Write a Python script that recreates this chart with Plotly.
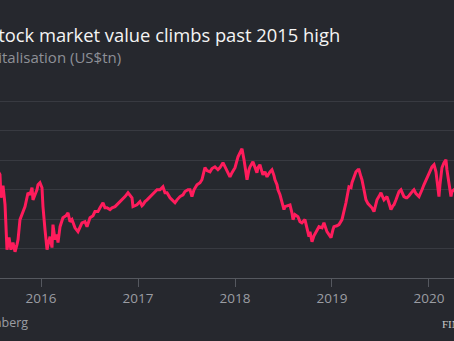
import plotly.graph_objects as go

# decimal years
years = [
    2015.525, 2015.577, 2015.587, 2015.608, 2015.629, 2015.649, 2015.670, 2015.690, 2015.711, 2015.732,
    2015.752, 2015.763, 2015.783, 2015.814, 2015.835, 2015.866, 2015.886, 2015.907, 2015.917, 2015.938,
    2015.958, 2015.969, 2015.989, 2016.010, 2016.020, 2016.041, 2016.062, 2016.072, 2016.093, 2016.113,
    2016.123, 2016.144, 2016.165, 2016.175, 2016.196, 2016.226, 2016.257, 2016.278, 2016.299, 2016.319,
    2016.350, 2016.381, 2016.402, 2016.422, 2016.453, 2016.474, 2016.505, 2016.536, 2016.556, 2016.587,
    2016.608, 2016.639, 2016.659, 2016.680, 2016.711, 2016.732, 2016.763, 2016.783, 2016.814, 2016.835,
    2016.866, 2016.897, 2016.917, 2016.938, 2016.948, 2016.969, 2016.989, 2017.020, 2017.041, 2017.051,
    2017.072, 2017.093, 2017.123, 2017.144, 2017.175, 2017.196, 2017.226, 2017.257, 2017.278, 2017.299,
    2017.330, 2017.350, 2017.381, 2017.402, 2017.433, 2017.464, 2017.484, 2017.515, 2017.536, 2017.556,
    2017.577, 2017.608, 2017.639, 2017.659, 2017.690, 2017.711, 2017.742, 2017.763, 2017.793, 2017.824,
    2017.845, 2017.876, 2017.897, 2017.917, 2017.948, 2017.969, 2018.000, 2018.031, 2018.051, 2018.072,
    2018.093, 2018.113, 2018.124, 2018.144, 2018.155, 2018.185, 2018.206, 2018.226, 2018.237, 2018.257,
    2018.278, 2018.288, 2018.309, 2018.330, 2018.361, 2018.381, 2018.402, 2018.412, 2018.433, 2018.443,
    2018.464, 2018.484, 2018.505, 2018.515, 2018.536, 2018.567, 2018.587, 2018.598, 2018.618, 2018.649,
    2018.670, 2018.690, 2018.721, 2018.742, 2018.763, 2018.773, 2018.794, 2018.814, 2018.835, 2018.855,
    2018.866, 2018.897, 2018.917, 2018.948, 2018.969, 2018.990, 2019.010, 2019.020, 2019.051, 2019.072,
    2019.103, 2019.123, 2019.144, 2019.175, 2019.196, 2019.206, 2019.227, 2019.247, 2019.268, 2019.278,
    2019.299, 2019.309, 2019.330, 2019.350, 2019.371, 2019.381, 2019.402, 2019.412, 2019.433, 2019.453,
    2019.464, 2019.484, 2019.505, 2019.526, 2019.536, 2019.556, 2019.567, 2019.587, 2019.608, 2019.629,
    2019.639, 2019.660, 2019.670, 2019.691, 2019.711, 2019.732, 2019.742, 2019.763, 2019.773, 2019.794,
    2019.814, 2019.835, 2019.845, 2019.866, 2019.897, 2019.917, 2019.928, 2019.948, 2019.969, 2019.990,
    2020.000, 2020.021, 2020.031, 2020.052, 2020.072, 2020.082, 2020.093, 2020.103, 2020.113, 2020.124,
    2020.134, 2020.155, 2020.175, 2020.185, 2020.196, 2020.206, 2020.227, 2020.237, 2020.257, 2020.299,
]

# market capitalisation, US$tn
market_cap = [
    7.84, 7.50, 6.72, 7.13, 6.48, 4.96, 5.37, 4.96, 5.20, 4.89,
    5.13, 5.30, 5.98, 6.25, 6.42, 6.89, 6.82, 7.06, 6.65, 6.82,
    6.99, 7.16, 7.23, 7.06, 6.42, 5.64, 4.96, 5.13, 5.40, 5.03,
    5.81, 5.30, 5.47, 5.20, 5.74, 6.04, 6.11, 6.21, 5.91, 5.98,
    5.70, 5.57, 5.70, 5.87, 5.91, 5.74, 6.04, 6.11, 6.25, 6.25,
    6.38, 6.55, 6.38, 6.38, 6.32, 6.38, 6.42, 6.48, 6.59, 6.65,
    6.76, 6.89, 6.79, 6.72, 6.42, 6.45, 6.48, 6.59, 6.45, 6.48,
    6.59, 6.65, 6.76, 6.82, 6.93, 6.99, 6.99, 7.09, 6.89, 6.89,
    6.72, 6.65, 6.55, 6.65, 6.76, 6.82, 6.93, 6.99, 6.99, 6.76,
    6.99, 7.16, 7.23, 7.33, 7.74, 7.64, 7.60, 7.71, 7.77, 7.67,
    7.74, 7.91, 7.77, 7.60, 7.43, 7.57, 7.74, 8.11, 8.25, 8.38,
    8.01, 7.60, 7.33, 7.67, 7.77, 7.94, 7.74, 7.57, 7.74, 7.84,
    7.60, 7.50, 7.60, 7.43, 7.60, 7.67, 7.47, 7.33, 7.16, 6.99,
    6.82, 6.55, 6.32, 6.42, 6.45, 6.48, 6.21, 5.98, 6.15, 6.08,
    5.91, 5.87, 5.98, 5.70, 5.40, 5.57, 5.23, 5.43, 5.54, 5.64,
    5.74, 5.70, 5.87, 5.57, 5.47, 5.37, 5.64, 5.74, 5.77, 5.81,
    5.98, 6.25, 6.55, 7.09, 7.06, 7.23, 7.40, 7.60, 7.67, 7.67,
    7.43, 7.33, 6.99, 6.65, 6.52, 6.48, 6.42, 6.38, 6.25, 6.48,
    6.65, 6.76, 6.89, 6.72, 6.65, 6.72, 6.76, 6.55, 6.32, 6.45,
    6.48, 6.65, 6.76, 6.93, 6.99, 6.82, 6.76, 6.72, 6.72, 6.79,
    6.89, 6.96, 6.99, 6.86, 6.76, 6.89, 6.99, 7.16, 7.33, 7.50,
    7.57, 7.74, 7.77, 7.84, 7.60, 7.33, 6.99, 6.76, 7.16, 7.43,
    7.74, 7.91, 8.01, 7.67, 7.40, 7.09, 6.76, 6.93, 6.99, 7.06,
]

tick_years = [2016, 2017, 2018, 2019, 2020]
tick_labels = ["2016", "2017", "2018", "2019", "2020"]
y_grid = [4, 5, 6, 7, 8, 9, 10]

title = "China's stock market value climbs past 2015 high"
subtitle = "Market capitalisation (US$tn)"
source = "Source: Bloomberg"
brand = "FINANCIAL TIMES"

BG = "#26282e"
W, H = 454, 341
TOP, BOTTOM = 99, 278.3
PH = BOTTOM - TOP
Y_TOP = 4 + PH / 29.55


def py(px):
    return (BOTTOM - px) / PH


fig = go.Figure()
fig.add_trace(go.Scatter(
    x=years, y=market_cap, mode="lines",
    line=dict(color="#ff1c5c", width=3),
    hoverinfo="skip", showlegend=False,
))

fig.update_layout(
    width=W, height=H,
    margin=dict(l=0, r=0, t=TOP, b=H - BOTTOM, pad=0),
    paper_bgcolor=BG, plot_bgcolor=BG,
    font=dict(family="Open Sans, sans-serif", color="#9b9da3"),
    xaxis=dict(
        range=[2015.577, 2020.258],
        tickvals=tick_years, ticktext=tick_labels,
        showgrid=False, zeroline=False,
        showline=True, linecolor="#55585f", linewidth=1,
        ticks="outside", ticklen=8, tickcolor="#55585f", tickwidth=1,
        tickfont=dict(size=13.5, color="#9b9da3"),
        fixedrange=True,
    ),
    yaxis=dict(
        range=[4, Y_TOP], tickvals=y_grid,
        showticklabels=False, showgrid=True,
        gridcolor="#383a41", gridwidth=1, zeroline=False,
        fixedrange=True,
    ),
    annotations=[
        dict(text=title, xref="paper", yref="paper", x=342 / W, y=py(34),
             xanchor="right", yanchor="middle", showarrow=False,
             font=dict(size=18.35, color="#f4f4f4")),
        dict(text=subtitle, xref="paper", yref="paper", x=123 / W, y=py(57),
             xanchor="right", yanchor="middle", showarrow=False,
             font=dict(size=15, color="#8e9097")),
        dict(text=source, xref="paper", yref="paper", x=29.5 / W, y=py(323),
             xanchor="right", yanchor="middle", showarrow=False,
             font=dict(size=12.5, color="#9b9da3")),
        dict(text=brand, xref="paper", yref="paper", x=440 / W, y=py(324),
             xanchor="left", yanchor="middle", showarrow=False,
             font=dict(size=11, color="#c8c8c8", family="Liberation Serif, serif")),
    ],
)

fig.write_html("out.html")
